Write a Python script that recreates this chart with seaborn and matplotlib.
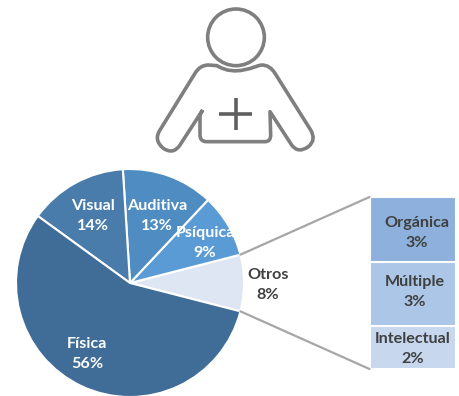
import matplotlib
matplotlib.use("Agg")
import matplotlib.pyplot as plt
import seaborn as sns
import numpy as np
from matplotlib.patches import Circle, PathPatch, ConnectionPatch
from matplotlib.path import Path

sns.set_theme(style="white")
plt.rcParams['font.family'] = ['Lato', 'DejaVu Sans']

# Data
pie_labels = ["Otros", "Psíquica", "Auditiva", "Visual", "Física"]
pie_values = [8, 9, 13, 14, 56]
pie_colors = ["#DFE6F3", "#5B9BD5", "#4F8CC1", "#4A7CAB", "#406D98"]
stack_labels = ["Intelectual", "Múltiple", "Orgánica"]
stack_values = [2, 3, 3]
stack_colors = ["#C6D7EE", "#ABC6E6", "#8DB1DC"]

W, H = 459, 396
fig = plt.figure(figsize=(W / 100, H / 100), dpi=100, facecolor="white")

def axes_px(x0, y0, x1, y1):
    return fig.add_axes([x0 / W, 1 - y1 / H, (x1 - x0) / W, (y1 - y0) / H])

# Pie
R = 114
cx, cy = 130, 283
axp = axes_px(cx - R, cy - R, cx + R, cy + R)
start = -pie_values[0] / 100 * 180
axp.pie(pie_values, colors=pie_colors, startangle=start, radius=1,
        wedgeprops=dict(edgecolor="white", linewidth=1.5, clip_on=False))
axp.set_xlim(-1, 1)
axp.set_ylim(-1, 1)
axp.set_aspect("auto")
axp.axis("off")

# Stacked breakdown bar
axb = axes_px(369.5, 197, 456, 369)
bottom = 0
for v, c in zip(stack_values, stack_colors):
    sns.barplot(x=[0], y=[v], bottom=bottom, width=1, color=c, saturation=1,
                edgecolor="white", linewidth=1.5, ax=axb)
    bottom += v
axb.set_xlim(-0.5, 0.5)
axb.set_ylim(0, sum(stack_values))
axb.axis("off")

# Connectors
ang = np.deg2rad(pie_values[0] / 100 * 180)
for sign, ytop in ((1, sum(stack_values)), (-1, 0)):
    con = ConnectionPatch(xyA=(np.cos(ang), sign * np.sin(ang)), coordsA=axp.transData,
                          xyB=(-0.5, ytop), coordsB=axb.transData,
                          color="#A6A6A6", linewidth=1.6)
    fig.add_artist(con)

# Labels, in pixel coordinates
axt = axes_px(0, 0, W, H)
axt.set_xlim(0, W)
axt.set_ylim(H, 0)
axt.axis("off")
axt.patch.set_alpha(0)
label_pos = {
    "Visual": (93, 216, "14%", "white"),
    "Auditiva": (157, 216, "13%", "white"),
    "Psíquica": (205, 243, "9%", "white"),
    "Física": (87, 354, "56%", "white"),
    "Otros": (268, 285, "8%", "#404040"),
    "Orgánica": (417, 233, "3%", "#404040"),
    "Múltiple": (415, 292, "3%", "#404040"),
    "Intelectual": (413, 349, "2%", "#404040"),
}
for name, (x, y, pct, col) in label_pos.items():
    axt.text(x, y, f"{name}\n{pct}", ha="center", va="center", color=col,
             fontsize=11.6, fontweight="bold", linespacing=1.5)

# Icon
axi = axes_px(140, 0, 330, 160)
axi.set_xlim(0, 570)
axi.set_ylim(480, 0)
axi.axis("off")
axi.patch.set_alpha(0)
grey = "#7F7F7F"
axi.add_patch(Circle((288, 112), 85, fill=False, ec=grey, lw=2.6))
verts = [(188, 330), (180, 345), (180, 405), (180, 425), (200, 425),
         (375, 425), (392, 425), (392, 405), (390, 335),
         (455, 435), (475, 462), (505, 440), (530, 420), (512, 390),
         (405, 220), (390, 195), (365, 195), (345, 197), (288, 232), (231, 197), (205, 195),
         (180, 195), (165, 220), (60, 390), (40, 420), (70, 445), (100, 465), (120, 435), (188, 330)]
codes = [Path.MOVETO, Path.LINETO, Path.LINETO, Path.CURVE3, Path.CURVE3,
         Path.LINETO, Path.CURVE3, Path.CURVE3, Path.LINETO,
         Path.LINETO, Path.CURVE3, Path.CURVE3, Path.CURVE3, Path.CURVE3,
         Path.LINETO, Path.CURVE3, Path.CURVE3, Path.CURVE4, Path.CURVE4, Path.CURVE4, Path.LINETO,
         Path.CURVE3, Path.CURVE3, Path.LINETO, Path.CURVE3, Path.CURVE3, Path.CURVE3, Path.CURVE3, Path.LINETO]
axi.add_patch(PathPatch(Path(verts, codes), fill=False, ec=grey, lw=2.6, joinstyle="round"))
axi.plot([237, 337], [341, 341], color="#5F5F5F", lw=2.6, solid_capstyle="butt")
axi.plot([287, 287], [293, 390], color="#5F5F5F", lw=2.6, solid_capstyle="butt")

fig.savefig("out.png", dpi=100, facecolor="white")
